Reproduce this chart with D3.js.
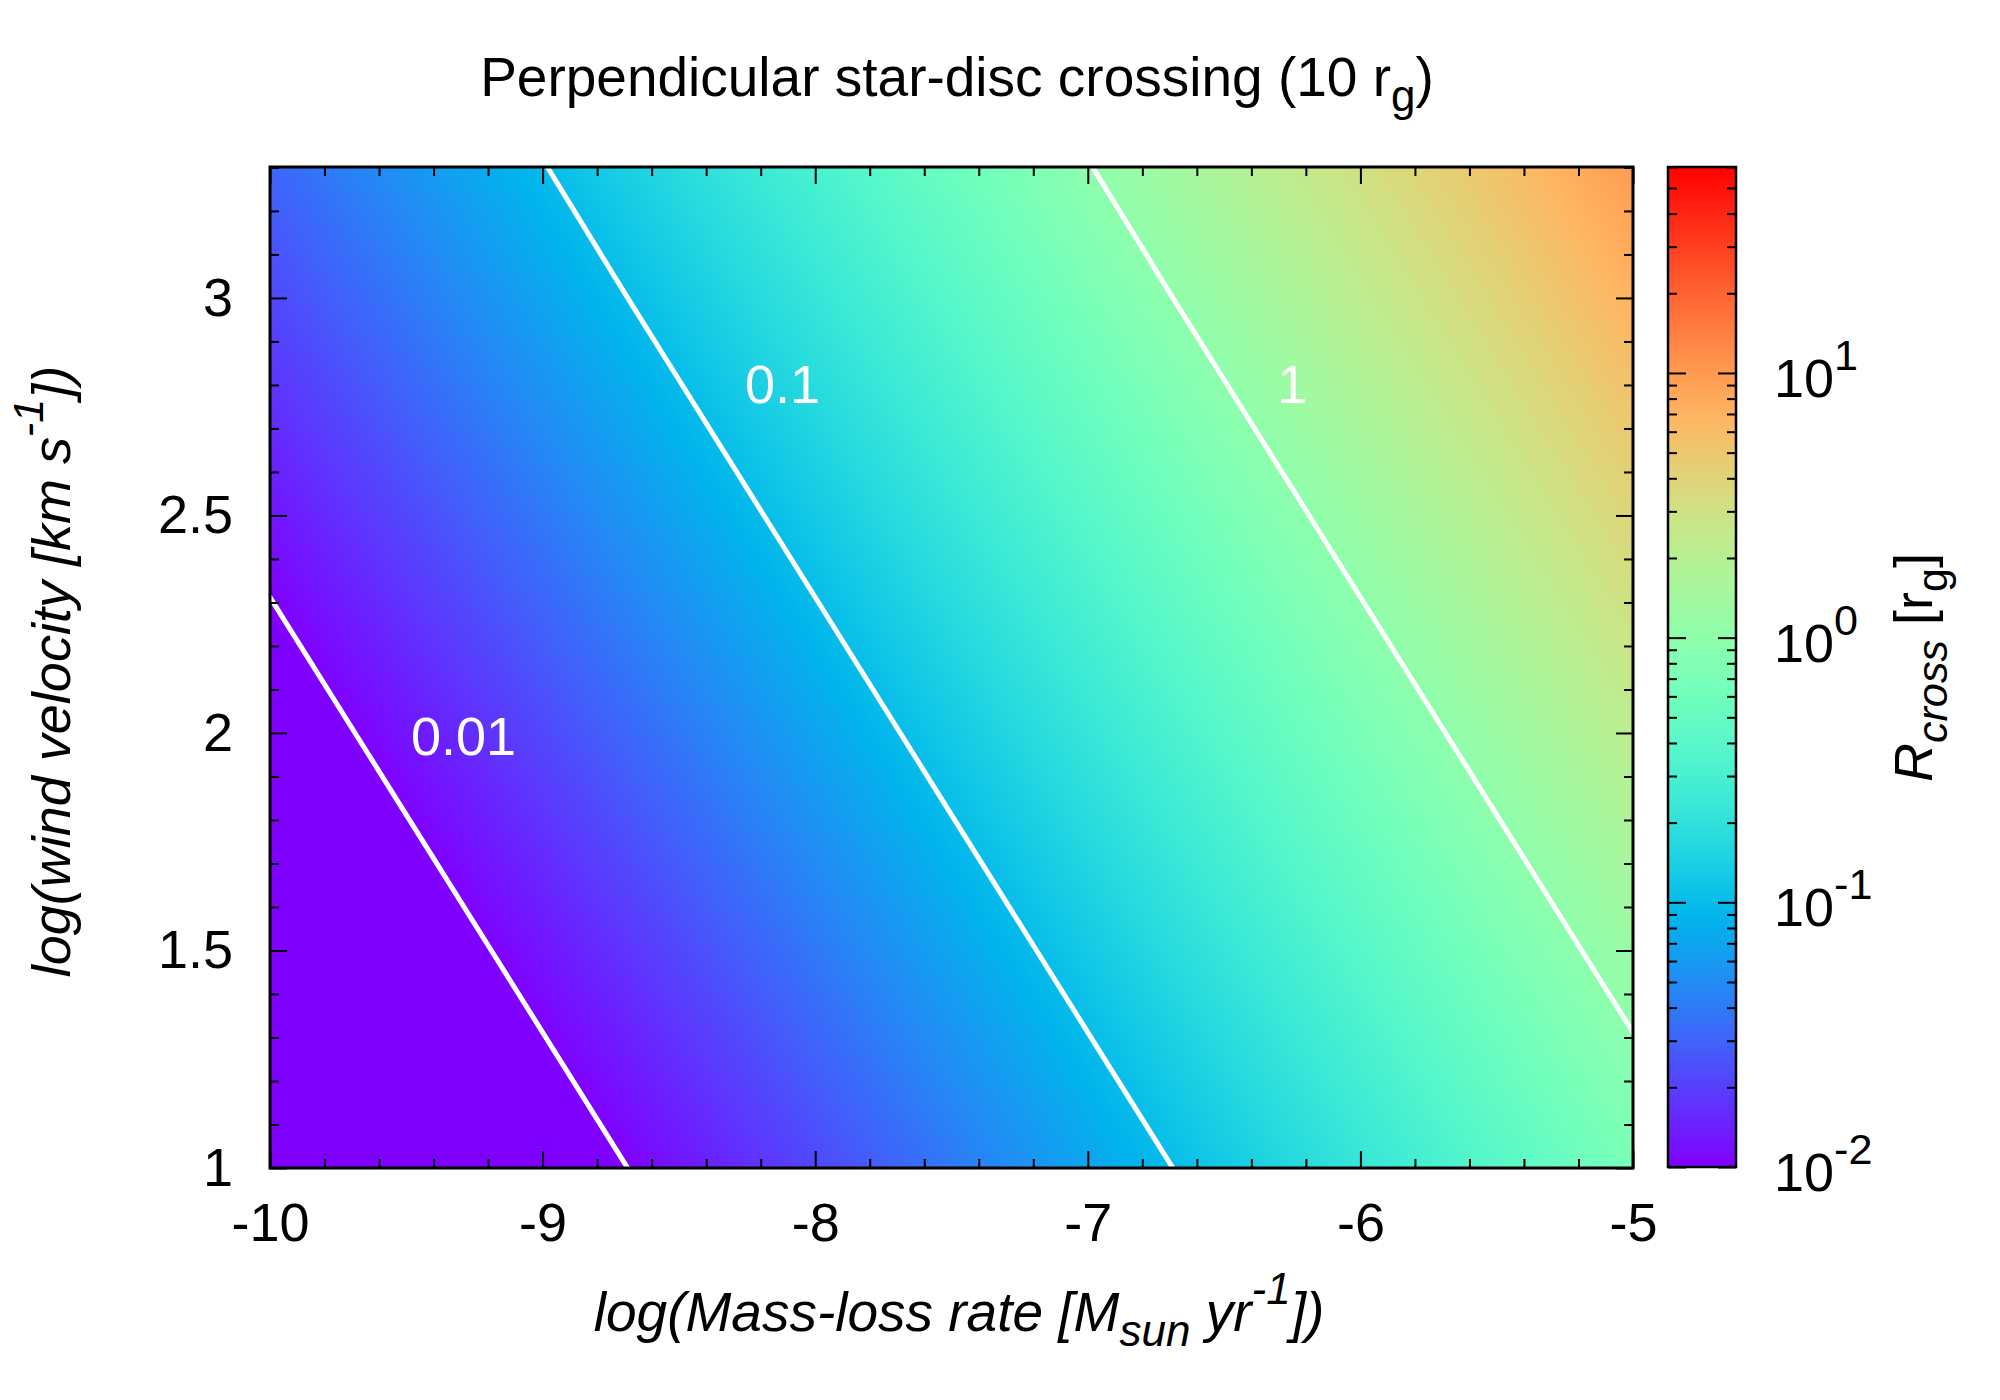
<!DOCTYPE html>
<head>
<meta charset="utf-8">

<!-- Load d3.js -->
<script src="https://d3js.org/d3.v7.min.js"></script>

<title>Perpendicular star-disc crossing</title>

<style>
  body { margin: 0; background: #fff; }
  text { font-family: "Liberation Sans", Arial, Helvetica, sans-serif; }
</style>
</head>

<body>
<div id="chart"></div>

<script>

// grid of the map: log(Mass-loss rate) along x, log(wind velocity) along y
var logMdot = [-10, -9.5, -9, -8.5, -8, -7.5, -7, -6.5, -6, -5.5, -5];
var logVwind = [1, 1.5, 2, 2.5, 3, 3.301];

// R_cross [r_g], one row per wind velocity (bottom to top)
var rCross = [
    [0.0022, 0.0039, 0.0070, 0.0124, 0.022, 0.039, 0.070, 0.124, 0.22, 0.39, 0.70],
    [0.0039, 0.0070, 0.0124, 0.022, 0.039, 0.070, 0.124, 0.22, 0.39, 0.70, 1.24],
    [0.0070, 0.0124, 0.022, 0.039, 0.070, 0.124, 0.22, 0.39, 0.70, 1.24, 2.2],
    [0.0124, 0.022, 0.039, 0.070, 0.124, 0.22, 0.39, 0.70, 1.24, 2.2, 3.9],
    [0.022, 0.039, 0.070, 0.124, 0.22, 0.39, 0.70, 1.24, 2.2, 3.9, 7.0],
    [0.031, 0.055, 0.098, 0.175, 0.31, 0.55, 0.98, 1.75, 3.1, 5.5, 9.8]
];

// contour levels and where their labels sit (data coordinates)
var contourLevels = [0.01, 0.1, 1];
var contourLabels = ["0.01", "0.1", "1"];
var labelMdot = [-9.29, -8.12, -6.25];
var labelVwind = [1.98, 2.79, 2.79];

// axes
var xTicks = [-10, -9, -8, -7, -6, -5];
var yTicks = [1, 1.5, 2, 2.5, 3];
var xDomain = [-10, -5];
var yDomain = [1, 3.301];
var cbDomain = [0.01, 60];
var cbTicks = [0.01, 0.1, 1, 10];

// set the dimensions of the page
var width = 2000,
    height = 1400;
var plot = {left: 270, right: 1633, top: 167, bottom: 1168};
var bar = {left: 1668, right: 1736};

var svg = d3.select("#chart")
    .append("svg")
    .attr("width", width)
    .attr("height", height);

var defs = svg.append("defs");

var x = d3.scaleLinear().domain(xDomain).range([plot.left, plot.right]);
var y = d3.scaleLinear().domain(yDomain).range([plot.bottom, plot.top]);

// gnuplot rainbow palette (rgbformulae 33,13,10)
function rainbow(t) {
    var r = Math.min(1, Math.abs(2 * t - 0.5)),
        g = Math.max(0, Math.sin(Math.PI * t)),
        b = Math.max(0, Math.cos(Math.PI / 2 * t));
    return d3.rgb(r * 255, g * 255, b * 255);
}

var colour = d3.scaleSequentialLog(rainbow).domain(cbDomain).clamp(true);

// log of the map values, bilinear shading inside each grid cell
var logR = rCross.map(function(row) { return row.map(Math.log10); });

function valueAt(xv, yv) {
    var i = Math.max(0, Math.min(logMdot.length - 2, d3.bisectRight(logMdot, xv) - 1));
    var j = Math.max(0, Math.min(logVwind.length - 2, d3.bisectRight(logVwind, yv) - 1));
    var tx = (xv - logMdot[i]) / (logMdot[i + 1] - logMdot[i]);
    var ty = (yv - logVwind[j]) / (logVwind[j + 1] - logVwind[j]);
    var lo = logR[j][i] * (1 - tx) + logR[j][i + 1] * tx;
    var hi = logR[j + 1][i] * (1 - tx) + logR[j + 1][i + 1] * tx;
    return lo * (1 - ty) + hi * ty;
}

// paint the map into a canvas, then put it in the svg
var w = plot.right - plot.left,
    h = plot.bottom - plot.top;
var canvas = document.createElement("canvas");
canvas.width = w;
canvas.height = h;
var ctx = canvas.getContext("2d");
var img = ctx.createImageData(w, h);
for (var py = 0; py < h; py++) {
    var yv = y.invert(plot.top + py + 0.5);
    for (var px = 0; px < w; px++) {
        var c = colour(Math.pow(10, valueAt(x.invert(plot.left + px + 0.5), yv)));
        var k = (py * w + px) * 4;
        img.data[k] = c.r;
        img.data[k + 1] = c.g;
        img.data[k + 2] = c.b;
        img.data[k + 3] = 255;
    }
}
ctx.putImageData(img, 0, 0);

svg.append("image")
    .attr("x", plot.left)
    .attr("y", plot.top)
    .attr("width", w)
    .attr("height", h)
    .attr("preserveAspectRatio", "none")
    .attr("href", canvas.toDataURL());

// contour lines from the same grid
defs.append("clipPath").attr("id", "plotclip")
    .append("rect")
    .attr("x", plot.left).attr("y", plot.top)
    .attr("width", w).attr("height", h);

var flat = [];
logR.forEach(function(row) { row.forEach(function(v) { flat.push(v); }); });

var contours = d3.contours()
    .size([logMdot.length, logVwind.length])
    .thresholds(contourLevels.map(Math.log10))(flat);

// grid index -> data value (value i sits at i + 0.5)
var col = d3.scaleLinear().domain(logMdot.map(function(d, i) { return i + 0.5; })).range(logMdot);
var row = d3.scaleLinear().domain(logVwind.map(function(d, i) { return i + 0.5; })).range(logVwind);

var path = d3.geoPath(d3.geoTransform({
    point: function(px, py) {
        this.stream.point(x(col(px)), y(row(py)));
    }
}));

svg.append("g")
    .attr("clip-path", "url(#plotclip)")
    .selectAll("path")
    .data(contours)
    .enter().append("path")
    .attr("d", path)
    .attr("fill", "none")
    .attr("stroke", "#fff")
    .attr("stroke-width", 5);

// contour labels
svg.append("g")
    .selectAll("text")
    .data(contourLabels)
    .enter().append("text")
    .attr("x", function(d, i) { return x(labelMdot[i]); })
    .attr("y", function(d, i) { return y(labelVwind[i]); })
    .attr("dy", "0.25em")
    .attr("text-anchor", "middle")
    .attr("font-size", 54)
    .attr("fill", "#fff")
    .text(function(d) { return d; });

// frame
svg.append("rect")
    .attr("x", plot.left).attr("y", plot.top)
    .attr("width", w).attr("height", h)
    .attr("fill", "none")
    .attr("stroke", "#000")
    .attr("stroke-width", 3);

// tick helper: axis generator, position
function ticks(axis, tx, ty) {
    var g = svg.append("g")
        .attr("transform", "translate(" + tx + "," + ty + ")")
        .call(axis)
        .attr("font-size", 54)
        .attr("font-family", null)
        .attr("color", "#000");
    g.select(".domain").remove();
    g.selectAll("line").attr("stroke-width", 2);
    return g;
}

var fmt = function(d) { return String(d); };
var xMinor = x.ticks(25).filter(function(d) { return xTicks.indexOf(d) < 0; });
var yMinor = y.ticks(20).filter(function(d) { return yTicks.indexOf(d) < 0; });

ticks(d3.axisBottom(x).tickValues(xTicks).tickSize(-17).tickPadding(35).tickFormat(fmt), 0, plot.bottom);
ticks(d3.axisBottom(x).tickValues(xMinor).tickSize(-9).tickFormat(""), 0, plot.bottom);
ticks(d3.axisTop(x).tickValues(xTicks).tickSize(-17).tickFormat(""), 0, plot.top);
ticks(d3.axisTop(x).tickValues(xMinor).tickSize(-9).tickFormat(""), 0, plot.top);

ticks(d3.axisLeft(y).tickValues(yTicks).tickSize(-17).tickPadding(37).tickFormat(fmt), plot.left, 0);
ticks(d3.axisLeft(y).tickValues(yMinor).tickSize(-9).tickFormat(""), plot.left, 0);
ticks(d3.axisRight(y).tickValues(yTicks).tickSize(-17).tickFormat(""), plot.right, 0);
ticks(d3.axisRight(y).tickValues(yMinor).tickSize(-9).tickFormat(""), plot.right, 0);

// colour box
var cb = d3.scaleLog().domain(cbDomain).range([plot.bottom - 1, plot.top]);

var grad = defs.append("linearGradient")
    .attr("id", "cbgrad")
    .attr("x1", 0).attr("y1", 1)
    .attr("x2", 0).attr("y2", 0);
d3.range(0, 1.0001, 1 / 64).forEach(function(t) {
    grad.append("stop").attr("offset", t).attr("stop-color", rainbow(t));
});

svg.append("rect")
    .attr("x", bar.left).attr("y", plot.top)
    .attr("width", bar.right - bar.left)
    .attr("height", cb.range()[0] - plot.top)
    .attr("fill", "url(#cbgrad)")
    .attr("stroke", "#000")
    .attr("stroke-width", 2.5);

var cbMinor = cb.ticks().filter(function(d) { return cbTicks.indexOf(d) < 0; });

ticks(d3.axisRight(cb).tickValues(cbTicks).tickSize(18).tickFormat(""), bar.left, 0);
ticks(d3.axisRight(cb).tickValues(cbMinor).tickSize(9).tickFormat(""), bar.left, 0);
ticks(d3.axisLeft(cb).tickValues(cbTicks).tickSize(18).tickFormat(""), bar.right, 0);
ticks(d3.axisLeft(cb).tickValues(cbMinor).tickSize(9).tickFormat(""), bar.right, 0);

// rich text: parts with optional sub / sup / italic
function rich(sel, parts, size) {
    var shift = 0;
    parts.forEach(function(p) {
        var s = p.sub ? 0.28 * size : (p.sup ? -0.5 * size : 0);
        var t = sel.append("tspan")
            .attr("dy", s - shift)
            .attr("font-size", (p.sub || p.sup) ? 0.8 * size : size)
            .text(p.text);
        if (p.italic) t.attr("font-style", "italic");
        shift = s;
    });
    return sel;
}

svg.append("g")
    .selectAll("text")
    .data(cbTicks)
    .enter().append("text")
    .attr("x", 1774)
    .attr("y", function(d) { return cb(d) + 24; })
    .each(function(d) {
        rich(d3.select(this), [
            {text: "10"},
            {text: String(Math.round(Math.log10(d))), sup: true}
        ], 54);
    });

// title and axis labels
rich(svg.append("text")
    .attr("x", 957).attr("y", 96)
    .attr("text-anchor", "middle"), [
    {text: "Perpendicular star-disc crossing (10 r"},
    {text: "g", sub: true},
    {text: ")"}
], 55);

rich(svg.append("text")
    .attr("x", 959).attr("y", 1331)
    .attr("text-anchor", "middle")
    .attr("font-style", "italic"), [
    {text: "log(Mass-loss rate [M"},
    {text: "sun", sub: true},
    {text: " yr"},
    {text: "-1", sup: true},
    {text: "])"}
], 55);

rich(svg.append("text")
    .attr("transform", "translate(70," + ((plot.top + plot.bottom) / 2 + 4) + ") rotate(-90)")
    .attr("text-anchor", "middle")
    .attr("font-style", "italic"), [
    {text: "log(wind velocity [km s"},
    {text: "-1", sup: true},
    {text: "])"}
], 54);

rich(svg.append("text")
    .attr("transform", "translate(1932," + ((plot.top + plot.bottom) / 2) + ") rotate(-90)")
    .attr("text-anchor", "middle"), [
    {text: "R", italic: true},
    {text: "cross", sub: true, italic: true},
    {text: " [r"},
    {text: "g", sub: true},
    {text: "]"}
], 54);

</script>
</body>
